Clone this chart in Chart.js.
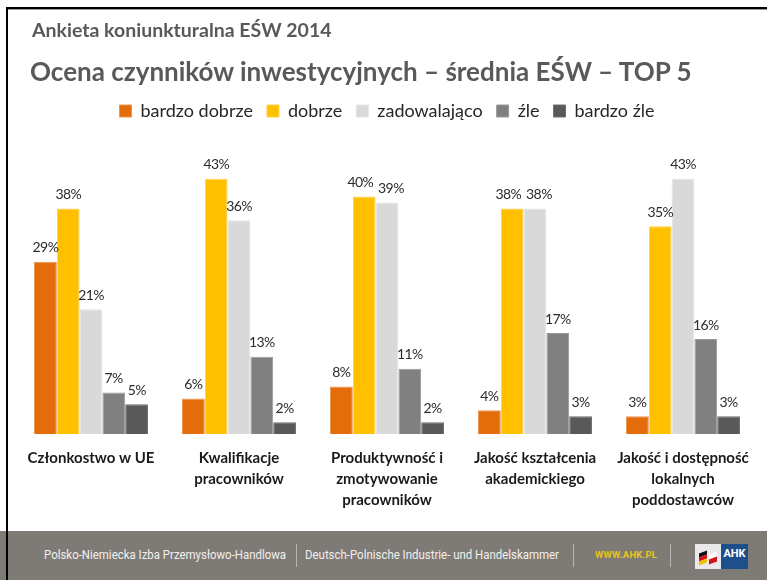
<!DOCTYPE html>
<html>
<head>
<meta charset="utf-8">
<script src="https://cdn.jsdelivr.net/npm/chart.js@4/dist/chart.umd.min.js"></script>
<style>
  html, body { margin: 0; padding: 0; background: #fff; }
  body { width: 767px; height: 580px; position: relative; overflow: hidden; font-family: Lato, "Open Sans", sans-serif; }
  #topline { position: absolute; left: 6px; top: 7px; width: 761px; height: 2px; background: #000; border-bottom: 1px solid #9a9a9a; }
  #leftline { position: absolute; left: 6px; top: 7px; width: 2px; height: 573px; background: #000; z-index: 5; }
  #sup { position: absolute; left: 32px; top: 18px; font-size: 19.5px; font-weight: 700; color: #595959; white-space: nowrap; z-index: 3; }
  #title { position: absolute; left: 30px; top: 55px; font-size: 26px; font-weight: 700; color: #595959; white-space: nowrap; z-index: 3; }
  #wrap { position: absolute; left: 0; top: 0; width: 767px; height: 530px; }
  #footer { position: absolute; left: 0; top: 531px; width: 767px; height: 49px; background: #7e7a76; }
  .ft { position: absolute; top: 16px; font-family: Roboto, sans-serif; font-size: 12.5px; color: #f2f0ee; white-space: nowrap; transform: scaleX(0.915); transform-origin: 0 50%; }
  .sep { position: absolute; top: 13px; width: 1px; height: 23px; background: #b8b4b0; }
  #www { position: absolute; left: 595px; top: 18px; font-family: Roboto, sans-serif; font-weight: 700; font-size: 9.5px; color: #e8c51a; letter-spacing: 0.2px; }
  #logo { position: absolute; left: 695px; top: 13px; width: 53px; height: 25px; }
  #logoL { position: absolute; left: 0; top: 0; width: 26px; height: 25px; background: #e9e9ea; overflow: hidden; }
  #logoR { position: absolute; left: 26px; top: 0; width: 27px; height: 25px; background: #1d4f8b; color: #fff; font: 700 11px Roboto, sans-serif; text-align: center; line-height: 20px; }
  .st { position: absolute; width: 8px; height: 12px; transform: skewY(-20deg); }
</style>
</head>
<body>
<div id="wrap"><canvas id="c" width="767" height="530"></canvas></div>
<div id="topline"></div>
<div id="leftline"></div>
<div id="sup">Ankieta koniunkturalna EŚW 2014</div>
<div id="title">Ocena czynników inwestycyjnych – średnia EŚW – TOP 5</div>
<div id="footer">
  <div class="ft" style="left:44px">Polsko-Niemiecka Izba Przemysłowo-Handlowa</div>
  <div class="sep" style="left:296px"></div>
  <div class="ft" style="left:305px">Deutsch-Polnische Industrie- und Handelskammer</div>
  <div class="sep" style="left:573px"></div>
  <div id="www">WWW.AHK.PL</div>
  <div class="sep" style="left:670px"></div>
  <div id="logo">
    <div id="logoL">
      <div class="st" style="left:4px;top:8px;height:4px;background:#111"></div>
      <div class="st" style="left:4px;top:12px;height:4px;background:#d2121a"></div>
      <div class="st" style="left:4px;top:16px;height:4px;background:#f2c200"></div>
      <div class="st" style="left:14px;top:9px;height:5px;background:#fff"></div>
      <div class="st" style="left:14px;top:14px;height:5px;background:#d2121a"></div>
    </div>
    <div id="logoR">AHK</div>
  </div>
</div>
<script>
const categories = [
  ["Członkostwo w UE"],
  ["Kwalifikacje", "pracowników"],
  ["Produktywność i", "zmotywowanie", "pracowników"],
  ["Jakość kształcenia", "akademickiego"],
  ["Jakość i dostępność", "lokalnych", "poddostawców"]
];
const seriesNames = ["bardzo dobrze", "dobrze", "zadowalająco", "źle", "bardzo źle"];
const bardzoDobrze = [29, 6, 8, 4, 3];
const dobrze = [38, 43, 40, 38, 35];
const zadowalajaco = [21, 36, 39, 38, 43];
const zle = [7, 13, 11, 17, 16];
const bardzoZle = [5, 2, 2, 3, 3];

const colors = ["#E46C0A", "#FFC000", "#D9D9D9", "#808080", "#595959"];
const borders = ["#EC9654", "#FFD24D", "#E4E4E4", "#999999", "#6E6E6E"];
const values = [bardzoDobrze, dobrze, zadowalajaco, zle, bardzoZle];

const labelPlugin = {
  id: 'valueLabels',
  afterDatasetsDraw(chart) {
    const ctx = chart.ctx;
    ctx.save();
    ctx.font = '14px Lato, "Open Sans", sans-serif';
    try { ctx.letterSpacing = '-0.6px'; } catch (e) {}
    ctx.fillStyle = '#2b2b2b';
    ctx.textAlign = 'center';
    ctx.textBaseline = 'middle';
    const n = chart.data.labels.length;
    for (let j = 0; j < n; j++) {
      const items = chart.data.datasets.map((ds, i) => {
        const bar = chart.getDatasetMeta(i).data[j];
        const text = ds.data[j] + '%';
        return { text, x: bar.x, y: bar.y - 14, w: ctx.measureText(text).width };
      });
      // separate adjacent labels that sit at (almost) the same height
      for (let k = 1; k < items.length; k++) {
        const a = items[k - 1], b = items[k];
        if (Math.abs(a.y - b.y) < 12) {
          const gap = (b.x - b.w / 2) - (a.x + a.w / 2);
          if (gap < 5) {
            const s = (5 - gap) / 2;
            a.x -= s; b.x += s;
          }
        }
      }
      items.forEach(it => ctx.fillText(it.text, it.x, it.y));
    }
    ctx.restore();
  }
};

new Chart(document.getElementById('c'), {
  type: 'bar',
  data: {
    labels: categories,
    datasets: seriesNames.map((n, i) => ({
      label: n,
      data: values[i],
      backgroundColor: colors[i],
      borderColor: borders[i],
      borderWidth: 1,
      categoryPercentage: 0.77,
      barPercentage: 1.0
    }))
  },
  options: {
    responsive: false,
    animation: false,
    layout: { padding: { top: 88, left: 17, right: 10, bottom: 0 } },
    plugins: {
      legend: {
        display: true,
        position: 'top',
        labels: {
          boxWidth: 12, boxHeight: 12, padding: 14,
          color: '#262626',
          font: { family: 'Lato, "Open Sans", sans-serif', size: 18 }
        }
      },
      tooltip: { enabled: false }
    },
    scales: {
      x: {
        grid: { display: false },
        border: { display: false },
        ticks: {
          color: '#1a1a1a',
          padding: 6,
          maxRotation: 0,
          autoSkip: false,
          font: { family: 'Lato, "Open Sans", sans-serif', size: 15, weight: 'bold', lineHeight: 1.4 }
        },
        afterFit(scale) { scale.height = 96; }
      },
      y: {
        display: false,
        min: 0,
        max: 51.2
      }
    }
  },
  plugins: [labelPlugin]
});
</script>
</body>
</html>
